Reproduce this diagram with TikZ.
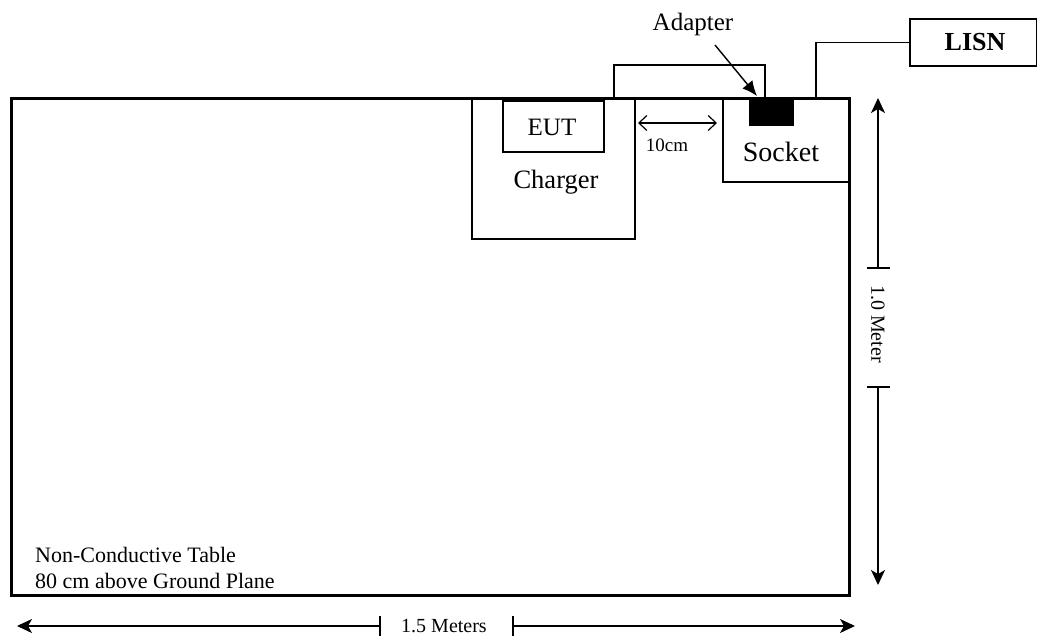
\documentclass[tikz,border=0pt]{standalone}
\usepackage{fontspec}
\setmainfont{Liberation Serif}
\usetikzlibrary{arrows.meta}
\begin{document}
\begin{tikzpicture}[x=1pt,y=-1pt,
  boxe/.style={draw, line width=1.5pt, inner sep=0pt, anchor=north west},
  lbl/.style={inner sep=0pt, font=\fontsize{22}{26}\selectfont},
  big/.style={inner sep=0pt, font=\fontsize{27}{31}\selectfont},
  small/.style={inner sep=0pt, font=\fontsize{20}{24}\selectfont},
  dim/.style={line width=1.4pt},
  dimtip/.style={-{Stealth[length=15pt,width=14pt,inset=4pt]}},
  wire/.style={line width=1.5pt}
]
\useasboundingbox (0,0) rectangle (1037,637);
% table
\node[boxe, line width=2.8pt, minimum width=838pt, minimum height=497pt] (table) at (10,97) {};
% charger and EUT
\node[boxe, minimum width=163pt, minimum height=141pt] (charger) at (471,97) {};
\node[big, font=\fontsize{26.5}{31}\selectfont] (chargertxt) at (556,182) {Charger};
\node[boxe, minimum width=101pt, minimum height=51pt] (eut) at (502,100) {};
\node[big, font=\fontsize{25}{29}\selectfont] (euttxt) at (552,127) {EUT};
% socket
\node[boxe, minimum width=126pt, minimum height=84pt] (socket) at (722,97) {};
\node[big, font=\fontsize{28}{32}\selectfont] (sockettxt) at (781,152) {Socket};
\node[boxe, fill=black, minimum width=43pt, minimum height=27pt] (adapter) at (749,97) {};
% cable charger - adapter
\coordinate (c1) at (614,97);
\coordinate (c2) at (765,97);
\draw[wire] (c1) -- (614,65) -- (765,65) -- (c2);
% LISN
\node[boxe, minimum width=127pt, minimum height=47pt] (lisn) at (909,18) {};
\node[lbl, font=\fontsize{26}{30}\selectfont\bfseries] (lisntxt) at (975,42) {LISN};
\coordinate (l1) at (816,97);
\draw[wire] (l1) |- (lisn.west);
% adapter label
\node[lbl, font=\fontsize{25}{29}\selectfont] (adlbl) at (693,24) {Adapter};
\coordinate (a1) at (715,45);
\draw[dim, -{Latex[length=15pt,width=13pt]}] (a1) -- (757,96);
% 10 cm
\coordinate (d1) at (638,123);
\coordinate (d2) at (717,123);
\draw[line width=1.2pt, {Straight Barb[length=8pt,width=15pt]}-{Straight Barb[length=8pt,width=15pt]}] (d1) -- (d2);
\node[small, font=\fontsize{19}{23}\selectfont] (tencm) at (667,145) {10cm};
% vertical dimension
\coordinate (v1) at (878,268);
\coordinate (v2) at (878,387);
\draw[dim, dimtip] (v1) -- (878,98);
\draw[dim] (867,268) -- (890,268);
\draw[dim, dimtip] (v2) -- (878,585);
\draw[dim] (867,387) -- (890,387);
\node[small, rotate=-90] (vlbl) at (878,324) {1.0 Meter};
% horizontal dimension
\coordinate (h1) at (380,626);
\coordinate (h2) at (513,626);
\draw[dim, dimtip] (h1) -- (17,626);
\draw[dim] (380,616) -- (380,636);
\draw[dim, dimtip] (h2) -- (855,626);
\draw[dim] (513,616) -- (513,636);
\node[small] (hlbl) at (444,626) {1.5 Meters};
% table text
\node[lbl, anchor=west] (t1) at (35,555) {Non-Conductive Table};
\node[lbl, anchor=west] (t2) at (35,581) {80 cm above Ground Plane};
\end{tikzpicture}
\end{document}
